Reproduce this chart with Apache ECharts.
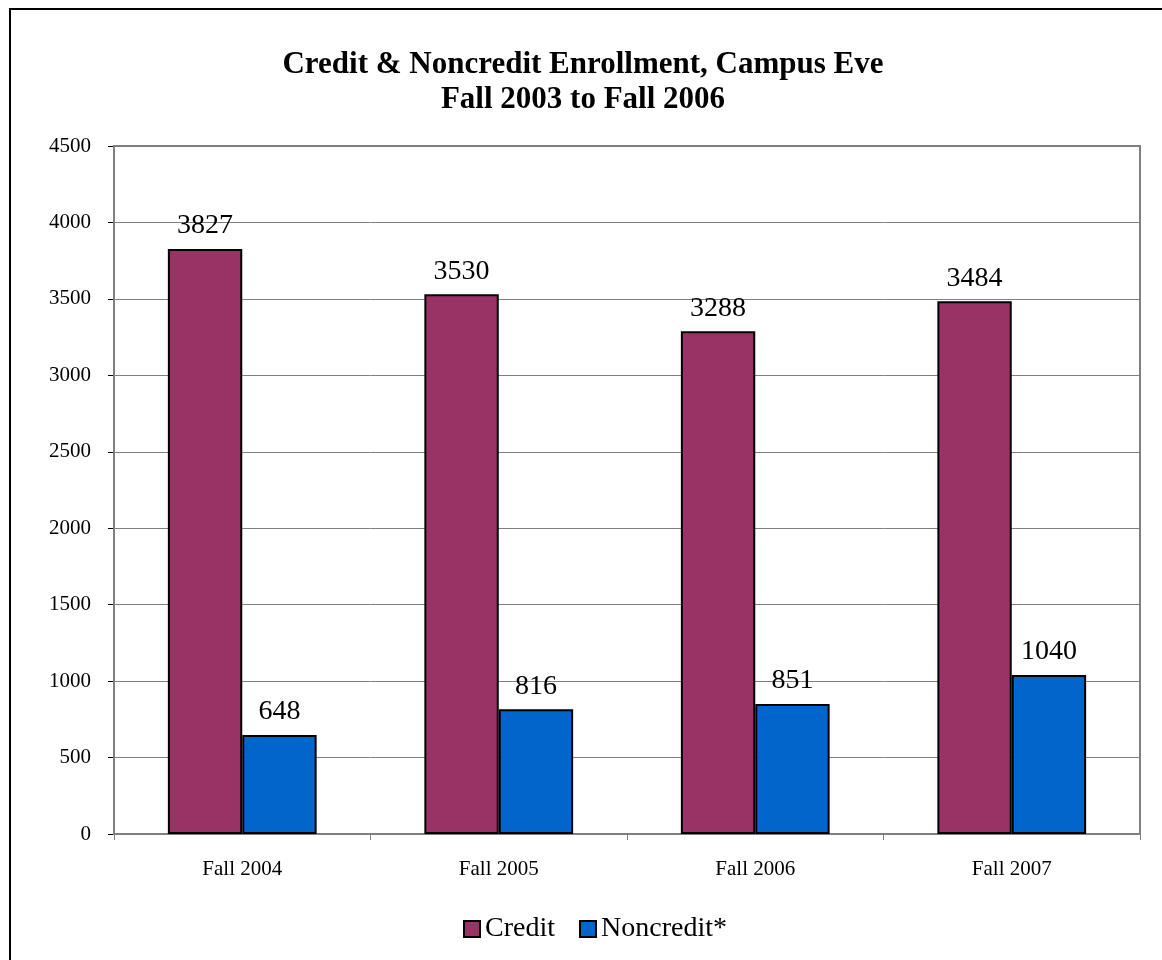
<!DOCTYPE html>
<html><head><meta charset="utf-8">
<script src="https://cdn.jsdelivr.net/npm/echarts@6/dist/echarts.min.js"></script>
<style>html,body{margin:0;padding:0;background:#fff;}#c{width:1162px;height:960px;}</style>
</head><body><div id="c"></div>
<script>
var categories = ['Fall 2004', 'Fall 2005', 'Fall 2006', 'Fall 2007'];
var creditValues = [3827, 3530, 3288, 3484];
var noncreditValues = [648, 816, 851, 1040];
var seriesNames = ['Credit', 'Noncredit*'];
var titleLines = ['Credit & Noncredit Enrollment, Campus Eve', 'Fall 2003 to Fall 2006'];

var FONT = '"Liberation Serif", "Times New Roman", serif';
var chart = echarts.init(document.getElementById('c'));
var labelStyle = {show: true, position: 'top', distance: 9, color: '#000', fontFamily: FONT, fontSize: 28};
chart.setOption({
  animation: false,
  graphic: [
    {type: 'rect', shape: {x: 10, y: 9, width: 1180, height: 1000}, style: {fill: 'none', stroke: '#000', lineWidth: 2}, z: 100},
    {type: 'rect', shape: {x: 114, y: 146, width: 1026, height: 688}, style: {fill: 'none', stroke: '#808080', lineWidth: 2}, z: 1}
  ],
  title: {
    text: titleLines.join('\n'), left: 578, top: 42, textAlign: 'center',
    textStyle: {fontFamily: FONT, fontSize: 31, fontWeight: 'bold', color: '#000', lineHeight: 35}
  },
  legend: {
    data: seriesNames, left: 463, top: 915, padding: 0, itemWidth: 16, itemHeight: 16, itemGap: 24,
    icon: 'rect',
    itemStyle: {borderColor: '#000', borderWidth: 2},
    textStyle: {fontFamily: FONT, fontSize: 28, color: '#000'}
  },
  grid: {left: 114, top: 146, width: 1026, height: 688, containLabel: false},
  xAxis: {
    type: 'category', data: categories,
    axisLine: {lineStyle: {color: '#808080', width: 1}},
    axisTick: {show: true, length: 6, lineStyle: {color: '#808080'}, alignWithLabel: false},
    axisLabel: {fontFamily: FONT, fontSize: 21, color: '#000', margin: 25}
  },
  yAxis: {
    type: 'value', min: 0, max: 4500, interval: 500,
    axisLine: {show: true, lineStyle: {color: '#000', width: 1}},
    axisTick: {show: true, length: 6, lineStyle: {color: '#000'}},
    axisLabel: {fontFamily: FONT, fontSize: 21, color: '#000', margin: 23, formatter: function (v) { return String(v); }},
    splitLine: {lineStyle: {color: '#808080', width: 1}}
  },
  series: [
    {name: seriesNames[0], type: 'bar', data: creditValues, barGap: '0%', barCategoryGap: '42%',
     itemStyle: {color: '#993366', borderColor: '#000', borderWidth: 2}, label: labelStyle},
    {name: seriesNames[1], type: 'bar', data: noncreditValues,
     itemStyle: {color: '#0066CC', borderColor: '#000', borderWidth: 2}, label: labelStyle}
  ]
});
</script></body></html>
